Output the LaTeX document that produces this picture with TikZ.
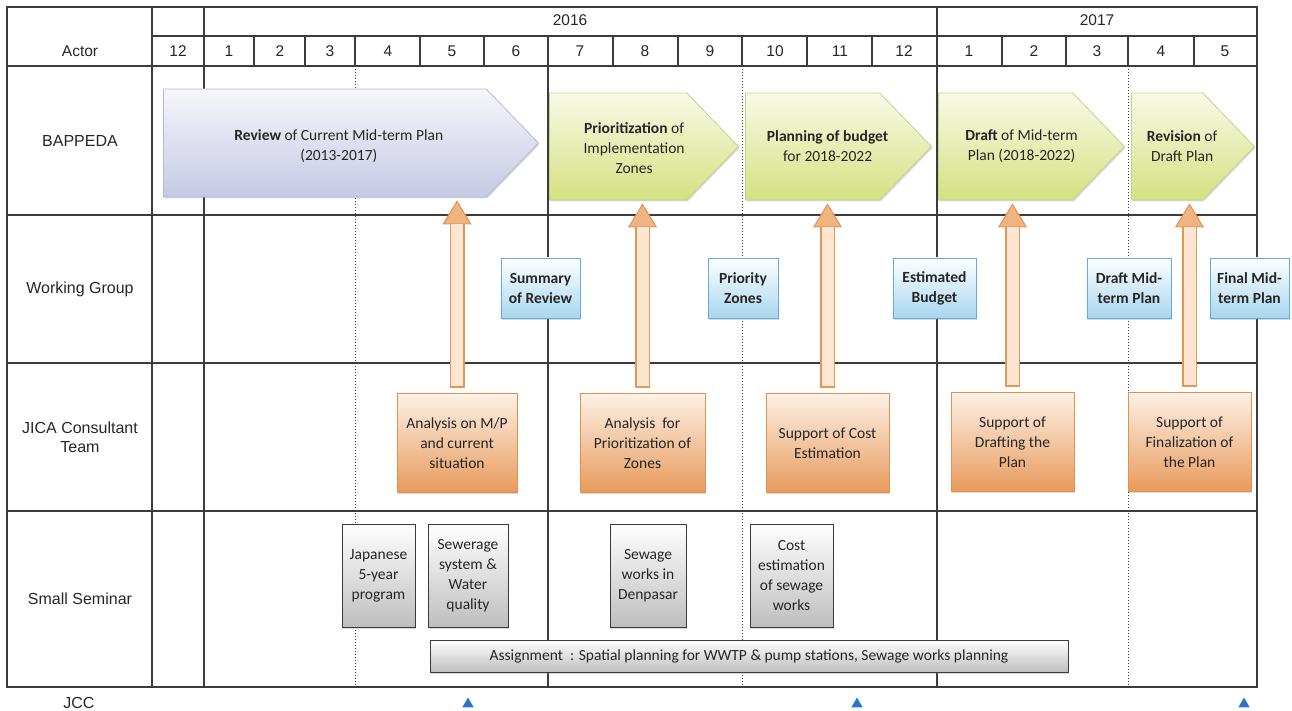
\documentclass[tikz,border=0pt]{standalone}
\usepackage{fontspec}
\setmainfont{Liberation Sans}
\newfontfamily\calib{Carlito}
\usetikzlibrary{calc, positioning, arrows.meta, shapes.geometric, shapes.symbols, shadows}

\definecolor{gridline}{RGB}{60,60,60}
\definecolor{inktext}{RGB}{38,38,38}
\definecolor{revtop}{RGB}{246,246,251}
\definecolor{revbot}{RGB}{198,201,228}
\definecolor{revline}{RGB}{182,186,214}
\definecolor{grntop}{RGB}{249,250,232}
\definecolor{grnbot}{RGB}{212,225,128}
\definecolor{grnline}{RGB}{196,212,140}
\definecolor{wgtop}{RGB}{255,255,255}
\definecolor{wgbot}{RGB}{168,214,240}
\definecolor{wgline}{RGB}{98,172,218}
\definecolor{jctop}{RGB}{253,241,230}
\definecolor{jcbot}{RGB}{232,154,92}
\definecolor{jcline}{RGB}{226,146,80}
\definecolor{semtop}{RGB}{255,255,255}
\definecolor{sembot}{RGB}{190,190,190}
\definecolor{semline}{RGB}{58,58,58}
\definecolor{arrline}{RGB}{228,150,86}
\definecolor{arrfill}{RGB}{252,230,210}
\definecolor{arrhead}{RGB}{240,180,130}
\definecolor{jccblue}{RGB}{40,120,196}

\begin{document}
\begin{tikzpicture}[x=1pt, y=-1pt,
    grid/.style={draw=gridline, line width=1.1pt},
    dotgrid/.style={draw=gridline, line width=1pt, dotted},
    hcell/.style={font=\fontsize{15.5}{18}\selectfont, text=inktext, inner sep=0pt},
    actor/.style={font=\fontsize{16}{19}\selectfont, text=inktext, align=center, inner sep=0pt},
    chev/.style={shape=signal, signal to=east, signal pointer angle=92, draw=#1line,
      top color=#1top, bottom color=#1bot, line width=.8pt, inner sep=0pt, anchor=west,
      drop shadow={shadow xshift=1pt, shadow yshift=-1.5pt, opacity=.3}},
    chevtext/.style={font=\calib\fontsize{15.5}{20}\selectfont, align=center, text=inktext, inner sep=0pt},
    box/.style={draw=#1line, top color=#1top, bottom color=#1bot, line width=.9pt,
      align=center, inner sep=0pt, text=inktext, minimum height=60,
      font=\calib\fontsize{15.5}{20}\selectfont,
      drop shadow={shadow xshift=1pt, shadow yshift=-1.5pt, opacity=.3}},
    wgbox/.style={box=wg, font=\calib\bfseries\fontsize{15.5}{20}\selectfont},
    jicabox/.style={box=jc, minimum height=99},
    semibox/.style={box=sem, minimum height=103},
    upout/.style={draw=arrline, line width=15pt, shorten <=5pt,
      -{Triangle[width=29pt, length=24pt, line width=1.1pt, fill=arrhead]}},
    upin/.style={draw=arrfill, line width=12pt, shorten <=6.6pt, shorten >=24pt},
    jccmark/.style={regular polygon, regular polygon sides=3, fill=jccblue, draw=none,
      minimum size=13, inner sep=0pt},
  ]
    \useasboundingbox (0,0) rectangle (1292,711);

    % table frame
    \draw[grid] (7,7) rectangle (1257,687);
    \foreach \y in {66,215,363,511} \draw[grid] (7,\y) -- (1257,\y);
    \draw[grid] (152,36) -- (1257,36);
    \foreach \x in {152,204,937} \draw[grid] (\x,7) -- (\x,66);
    \foreach \x in {254,305,355,420,484,548,613,678,742,807,872,1002,1066,1128,1194}
      \draw[grid] (\x,36) -- (\x,66);
    \foreach \x in {152,204,548,937} \draw[grid] (\x,66) -- (\x,687);
    \foreach \x in {355,742,1128} \draw[dotgrid] (\x,66) -- (\x,687);

    % header
    \node[hcell] (actor) at (80,51) {Actor};
    \node[hcell] (y16) at (570,20) {2016};
    \node[hcell] (y17) at (1097,20) {2017};
    \foreach \x/\m [count=\i] in {178/12, 229/1, 280/2, 330/3, 388/4, 452/5, 516/6, 580/7, 645/8,
        710/9, 775/10, 840/11, 904/12, 969/1, 1034/2, 1097/3, 1161/4, 1225/5}
      \node[hcell] (mon\i) at (\x,51) {\m};

    % actors
    \node[actor] (bap) at (80,141) {BAPPEDA};
    \node[actor] (wg) at (80,289) {Working Group};
    \node[actor] (jica) at (80,437) {JICA Consultant\\Team};
    \node[actor] (sem) at (80,599) {Small Seminar};
    \node[actor] (jcc) at (79,703) {JCC};

    % BAPPEDA steps
    \node[chev=rev, minimum width=375, minimum height=108] (rv) at (163,143) {};
    \node[chev=grn, minimum width=189, minimum height=107] (pz) at (549,146.5) {};
    \node[chev=grn, minimum width=186, minimum height=107] (pb) at (745,146.5) {};
    \node[chev=grn, minimum width=186, minimum height=107] (dr) at (938,146.5) {};
    \node[chev=grn, minimum width=123, minimum height=107] (rs) at (1131,146.5) {};
    \node[chevtext] (rvt) at ([xshift=14pt, yshift=-3pt]rv.center) {\textbf{Review} of Current Mid-term Plan\\(2013-2017)};
    \node[chevtext] (pzt) at ([xshift=16pt, yshift=-2pt]pz.center) {\textbf{Prioritization} of\\Implementation\\Zones};
    \node[chevtext] (pbt) at ([xshift=15pt]pb.center) {\textbf{Planning of budget}\\for 2018-2022};
    \node[chevtext] (drt) at ([xshift=16pt]dr.center) {\textbf{Draft} of Mid-term\\Plan (2018-2022)};
    \node[chevtext] (rst) at ([xshift=15pt]rs.center) {\textbf{Revision} of\\Draft Plan};

    % JICA consultant team
    \node[jicabox, minimum width=120] (ja1) at (457,443) {Analysis on M/P\\and current\\situation};
    \node[jicabox, minimum width=125] (ja2) at (642.5,443) {Analysis\ \ for\\Prioritization of\\Zones};
    \node[jicabox, minimum width=123] (ja3) at (827.5,443) {Support of Cost\\Estimation};
    \node[jicabox, minimum width=123] (ja4) at (1012.5,442) {Support of\\Drafting the\\Plan};
    \node[jicabox, minimum width=123] (ja5) at (1189.5,442) {Support of\\Finalization of\\the Plan};

    % inputs to BAPPEDA
    \foreach \src/\dst in {ja1/rv, ja2/pz, ja3/pb, ja4/dr, ja5/rs} {
      \draw[upout] (\src.north) -- ([yshift=-3pt]\src.north |- \dst.south);
      \draw[upin] (\src.north) -- ([yshift=-3pt]\src.north |- \dst.south);
    }

    % working group outputs
    \node[wgbox, minimum width=79] (wg1) at (540.5,288) {Summary\\of Review};
    \node[wgbox, minimum width=70] (wg2) at (743,288) {Priority\\Zones};
    \node[wgbox, minimum width=83] (wg3) at (934.5,288) {Estimated\\Budget};
    \node[wgbox, minimum width=84] (wg4) at (1129,288) {Draft Mid-\\term Plan};
    \node[wgbox, minimum width=79] (wg5) at (1249.5,288) {Final Mid-\\term Plan};

    % small seminars
    \node[semibox, minimum width=73] (ss1) at (378.5,575.5) {Japanese\\5-year\\program};
    \node[semibox, minimum width=80] (ss2) at (468,575.5) {Sewerage\\system \&\\Water\\quality};
    \node[semibox, minimum width=76] (ss3) at (648,575.5) {Sewage\\works in\\Denpasar};
    \node[semibox, minimum width=83] (ss4) at (791.5,575.5) {Cost\\estimation\\of sewage\\works};
    \node[box=sem, minimum width=638, minimum height=32] (asg) at (749,656)
      {Assignment\ \ : Spatial planning for WWTP \& pump stations, Sewage works planning};

    % JCC meetings
    \node[jccmark] (jcc1) at (468,704) {};
    \node[jccmark] (jcc2) at (857,704) {};
    \node[jccmark] (jcc3) at (1244,704) {};
  \end{tikzpicture}
\end{document}
